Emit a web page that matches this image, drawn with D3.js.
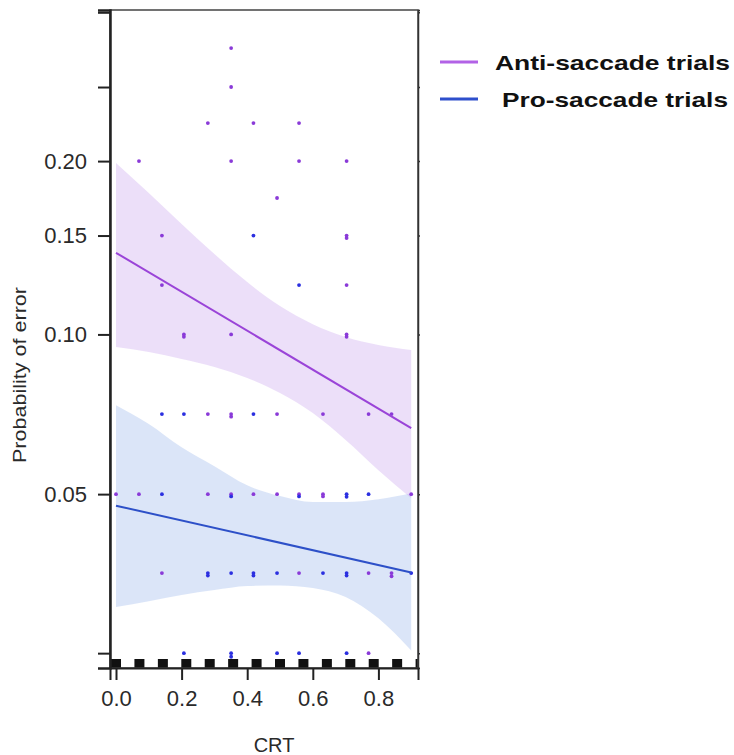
<!DOCTYPE html>
<html>
<head>
<meta charset="utf-8">
<script src="https://cdn.jsdelivr.net/npm/d3@7"></script>
<style>
  html, body { margin: 0; padding: 0; background: #fff; }
  svg { display: block; }
</style>
</head>
<body>
<svg id="chart" width="734" height="755"></svg>
<script>
// ---------- data ----------
const seriesNames = ["Anti-saccade trials", "Pro-saccade trials"];

// scatter points: CRT score and observed probability of error
const antiCRT  = [0.351, 0.351, 0.280, 0.419, 0.558, 0.070, 0.351, 0.558, 0.703, 0.491,
                  0.140, 0.703, 0.703, 0.140, 0.703, 0.207, 0.207, 0.351, 0.703, 0.703,
                  0.280, 0.351, 0.351, 0.491, 0.631, 0.770, 0.840,
                  0.000, 0.070, 0.280, 0.351, 0.419, 0.491, 0.558, 0.631, 0.631, 0.900,
                  0.140, 0.558, 0.770, 0.840, 0.840, 0.770];
const antiProb = [0.2979, 0.2612, 0.2300, 0.2300, 0.2300, 0.200, 0.200, 0.200, 0.200, 0.1738,
                  0.150, 0.150, 0.1485, 0.1228, 0.1228, 0.100, 0.099, 0.100, 0.100, 0.099,
                  0.0711, 0.0711, 0.0703, 0.0711, 0.0711, 0.0711, 0.0711,
                  0.050, 0.050, 0.050, 0.050, 0.050, 0.050, 0.050, 0.050, 0.0495, 0.050,
                  0.0351, 0.0351, 0.0351, 0.0351, 0.0346, 0.0244];

const proCRT  = [0.419, 0.558, 0.140, 0.207, 0.419,
                 0.140, 0.351, 0.558, 0.703, 0.703, 0.770,
                 0.280, 0.280, 0.351, 0.419, 0.419, 0.491, 0.631, 0.703, 0.703, 0.900,
                 0.207, 0.351, 0.351, 0.491, 0.558, 0.703];
const proProb = [0.150, 0.1228, 0.0711, 0.0711, 0.0711,
                 0.050, 0.0495, 0.0495, 0.050, 0.0494, 0.050,
                 0.0351, 0.0347, 0.0351, 0.0351, 0.0347, 0.0351, 0.0351, 0.0351, 0.0347, 0.0351,
                 0.0244, 0.0244, 0.0240, 0.0244, 0.0244, 0.0244];

// fitted lines (end points) and confidence bands
const fitCRT      = [0.0, 0.9];
const antiFit     = [0.140, 0.0669];
const proFit      = [0.0475, 0.0352];
const bandCRT     = [0.0, 0.1, 0.2, 0.3, 0.4, 0.5, 0.6, 0.7, 0.8, 0.9];
const antiUpper   = [0.1985, 0.1771, 0.1570, 0.1393, 0.1243, 0.1126, 0.1044, 0.0989, 0.0956, 0.0936];
const antiLower   = [0.0948, 0.0928, 0.0901, 0.0871, 0.0831, 0.0779, 0.0714, 0.0635, 0.0556, 0.0491];
const proUpper    = [0.0739, 0.0681, 0.0615, 0.0566, 0.0520, 0.0496, 0.0483, 0.0483, 0.0489, 0.0502];
const proLower    = [0.0301, 0.0309, 0.0318, 0.0325, 0.0331, 0.0332, 0.0328, 0.0315, 0.0286, 0.0247];

// rug of observed CRT values
const rugCRT = [0, 0.0714, 0.1429, 0.2143, 0.2857, 0.3571, 0.4286, 0.5, 0.5714, 0.6429, 0.7143, 0.7857, 0.8571, 0.9286];

// axes
const xTickValues = [0.0, 0.2, 0.4, 0.6, 0.8];
const xTickLabels = ["0.0", "0.2", "0.4", "0.6", "0.8"];
const yTickValues = [0.0244, 0.05, 0.10, 0.15, 0.20, 0.2612, 0.334];
const yTickLabels = ["", "0.05", "0.10", "0.15", "0.20", "", ""];
const xLimits = [-0.0183, 0.9207];
const yLimits = [0.0228, 0.3364];

// ---------- drawing ----------
const svg = d3.select("#chart");
const L = 110, R = 418, T = 10, B = 668;
const logit = p => Math.log(p / (1 - p));

const x = d3.scaleLinear().domain(xLimits).range([L, R]);
const yl = d3.scaleLinear().domain(yLimits.map(logit)).range([B, T]);
const y = p => yl(logit(p));

const colAntiLine = "#9a44d8", colProLine = "#2d50c8";
const colAntiDot = "#8a3ad8", colProDot = "#2b2fe0";

svg.append("defs").append("clipPath").attr("id", "plotclip")
  .append("rect").attr("x", L).attr("y", T).attr("width", R - L).attr("height", B - T);

const plot = svg.append("g").attr("clip-path", "url(#plotclip)");

const area = (lo, hi) => d3.area()
  .x((d, i) => x(bandCRT[i]))
  .y0((d, i) => y(lo[i]))
  .y1((d, i) => y(hi[i]))
  .curve(d3.curveMonotoneX)(bandCRT);

plot.append("path").attr("d", area(proLower, proUpper))
  .attr("fill", "#a9c2ee").attr("fill-opacity", 0.42);
plot.append("path").attr("d", area(antiLower, antiUpper))
  .attr("fill", "#c9a6ef").attr("fill-opacity", 0.36);

// points
plot.append("g").selectAll("circle").data(antiCRT).join("circle")
  .attr("cx", (d, i) => x(d)).attr("cy", (d, i) => y(antiProb[i]))
  .attr("r", 1.9).attr("fill", colAntiDot);
plot.append("g").selectAll("circle").data(proCRT).join("circle")
  .attr("cx", (d, i) => x(d)).attr("cy", (d, i) => y(proProb[i]))
  .attr("r", 1.9).attr("fill", colProDot);

// fitted lines
const fitLine = vals => d3.line().x((d, i) => x(fitCRT[i])).y((d, i) => y(vals[i]))(fitCRT);
plot.append("path").attr("d", fitLine(antiFit)).attr("fill", "none")
  .attr("stroke", colAntiLine).attr("stroke-width", 2);
plot.append("path").attr("d", fitLine(proFit)).attr("fill", "none")
  .attr("stroke", colProLine).attr("stroke-width", 2);

// rug squares
plot.append("g").selectAll("rect").data(rugCRT).join("rect")
  .attr("x", d => x(d) - 5).attr("y", B - 9).attr("width", 10).attr("height", 9)
  .attr("fill", "#111");

// frame
svg.append("rect").attr("x", L).attr("y", T).attr("width", R - L).attr("height", B - T)
  .attr("fill", "none").attr("stroke", "#444").attr("stroke-width", 1.5);

// axes
const fontAxis = "'Liberation Sans', Arial, Helvetica, sans-serif";
const yAxis = d3.axisLeft(yl)
  .tickValues(yTickValues.map(logit))
  .tickFormat((d, i) => yTickLabels[i])
  .tickSize(12).tickPadding(11);
const gy = svg.append("g").attr("transform", `translate(${L},0)`).call(yAxis);
gy.select(".domain").attr("stroke", "#222").attr("stroke-width", 2.5);
gy.selectAll(".tick line").attr("stroke", "#222").attr("stroke-width", 2);
gy.selectAll("text").attr("font-family", fontAxis).attr("font-size", 22).attr("fill", "#2a2a2a");

const yAxisR = d3.axisRight(yl).tickValues(yTickValues.map(logit)).tickFormat("").tickSize(2);
const gyr = svg.append("g").attr("transform", `translate(${R},0)`).call(yAxisR);
gyr.select(".domain").attr("stroke", "#333").attr("stroke-width", 1.5);
gyr.selectAll(".tick line").attr("stroke", "#333").attr("stroke-width", 1.5);

const xAxis = d3.axisBottom(x)
  .tickValues(xTickValues)
  .tickFormat((d, i) => xTickLabels[i])
  .tickSize(12).tickPadding(10);
const gx = svg.append("g").attr("transform", `translate(0,${B})`).call(xAxis);
gx.select(".domain").attr("stroke", "#222").attr("stroke-width", 2);
gx.selectAll(".tick line").attr("stroke", "#222").attr("stroke-width", 2);
gx.selectAll("text").attr("font-family", fontAxis).attr("font-size", 22).attr("fill", "#2a2a2a");

// axis titles
svg.append("text").attr("x", 274).attr("y", 752).attr("text-anchor", "middle")
  .attr("font-family", fontAxis).attr("font-size", 20).attr("fill", "#2a2a2a").text("CRT");
svg.append("text").attr("transform", "translate(26,375) rotate(-90)")
  .attr("text-anchor", "middle")
  .attr("font-family", fontAxis).attr("font-size", 18).attr("fill", "#2a2a2a")
  .attr("textLength", 176).attr("lengthAdjust", "spacingAndGlyphs")
  .text("Probability of error");

// legend
const legendColors = ["#b262e6", "#2e4fcc"];
const legendY = [62, 99];
const legendTextX = [495, 502];
const legendTextLen = [235, 226];
const lg = svg.append("g");
seriesNames.forEach((name, i) => {
  lg.append("line").attr("x1", 440).attr("x2", 478).attr("y1", legendY[i]).attr("y2", legendY[i])
    .attr("stroke", legendColors[i]).attr("stroke-width", 3);
  lg.append("text").attr("x", legendTextX[i]).attr("y", legendY[i] + 8)
    .attr("font-family", fontAxis).attr("font-weight", "bold").attr("font-size", 21)
    .attr("fill", "#111")
    .attr("textLength", legendTextLen[i]).attr("lengthAdjust", "spacingAndGlyphs")
    .text(name);
});
</script>
</body>
</html>
